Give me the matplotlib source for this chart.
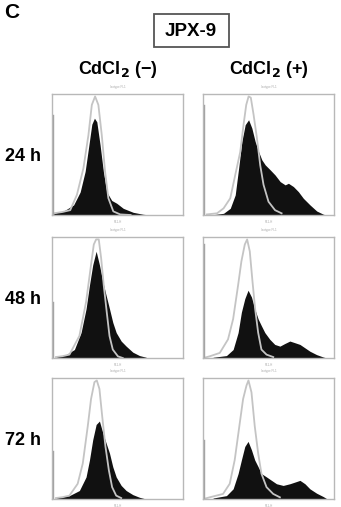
import matplotlib.pyplot as plt
from matplotlib.patches import Rectangle

plt.rcParams['font.family'] = ['Liberation Sans', 'DejaVu Sans']

# column / row headers
conditions = ["CdCl$_\\mathbf{2}$ (\u2212)", "CdCl$_\\mathbf{2}$ (+)"]
times = ["24 h", "48 h", "72 h"]

# histograms, x in % of channel range, y in % of panel height
# control (gray outline) and treated (black filled) per panel, row-major
ctrl_x = [
    [2, 8, 13.9, 19, 24, 27.8, 30.4, 32.9, 35.4, 38, 40.5, 43, 46.8, 52, 60],
    [3, 10.7, 15.7, 20.8, 24.6, 28.4, 31, 33, 34.8, 36.5, 38.6, 41.1, 43.7, 46.2, 50, 55, 60],
    [3, 8, 13.3, 20.9, 26, 29.8, 31.9, 33.7, 35.7, 37.5, 39.5, 41.8, 43.9, 46.4, 50.3, 54],
    [2, 5.1, 12.8, 19.1, 23, 26.8, 29.3, 31.9, 33.7, 35.7, 37.8, 39.8, 42.1, 44.6, 48.5, 53.6],
    [3, 8, 13.3, 19.6, 23.5, 27.3, 29.8, 32.4, 34.2, 36.2, 38.3, 40.8, 43.4, 45.9, 49, 52.8],
    [2, 5.1, 15.3, 20.4, 24.2, 28.1, 30.6, 33.2, 34.7, 37, 39.5, 42.1, 44.6, 48.5, 53.6, 58.7],
]
ctrl_y = [
    [1.5, 2.5, 4, 16.6, 38.7, 66, 91, 98, 91, 66, 36, 14, 3, 0.5, 0],
    [0.5, 1.4, 5.5, 13.8, 33, 52, 75, 91, 98, 97, 83, 64, 41, 25, 11, 4, 1.4],
    [0.8, 1.5, 2.8, 18.2, 46.2, 77, 93.8, 98, 98, 82.6, 60, 37.8, 18.2, 7, 1.4, 0],
    [0.5, 1.4, 4.2, 15.4, 32.2, 60.2, 79.8, 93.8, 98, 88.2, 63, 40.6, 21, 7, 2.8, 0.8],
    [0.8, 1.5, 2.8, 12.6, 29.4, 60.2, 82.6, 96.6, 98, 91, 68.6, 43.4, 23.8, 9.8, 2.8, 0.8],
    [0.5, 1.4, 4.2, 12.6, 32.2, 63, 82.6, 93.8, 98, 88.2, 60.2, 37.8, 21, 9.8, 4.2, 1.4],
]
trt_x = [
    [1.3, 8.9, 16.5, 21.5, 25.3, 27.8, 30.4, 32.4, 34.2, 36.7, 39.2, 41.8, 45.6, 49.4, 54.4, 62, 69.6, 74.7],
    [5.6, 15.7, 20.8, 24.6, 27.2, 29.7, 32.2, 34.8, 37.3, 39.8, 42.4, 44.9, 47.5, 51.3, 55, 58.9,
     62.7, 65.2, 69, 72.8, 76.6, 81.7, 86.8, 91.9, 94.4],
    [3.1, 10.7, 17.1, 22.2, 26, 28.6, 31.1, 33.7, 36.2, 38.8, 41.3, 43.9, 46.4, 49, 52.8, 56.6,
     61.7, 66.8, 71.9],
    [7.7, 17.9, 23, 26.8, 29.3, 31.9, 34.4, 37, 39.5, 42.1, 44.6, 47.2, 51, 54.8, 58.7, 62.5,
     66.3, 70.2, 74, 77.8, 81.6, 86.7, 91.8, 94.4],
    [3.1, 13.3, 20.9, 26, 28.6, 31.1, 33.7, 36.2, 38.8, 41.3, 43.9, 46.4, 49, 52.8, 56.6, 61.7,
     66.8, 70.7],
    [7.7, 17.9, 23, 26.8, 29.3, 31.9, 34.4, 37, 39.5, 42.1, 44.6, 48.5, 52.3, 56.1, 61.2, 66.3,
     70.2, 74, 77.8, 81.6, 86.7, 91.8, 94.4],
]
trt_y = [
    [1.4, 3.3, 8.3, 19, 36, 55, 75, 80, 77, 58, 36, 19, 12, 9.7, 5.5, 2.2, 0.6, 0],
    [0, 1.4, 5.5, 16.6, 38.7, 60.8, 74.6, 78.7, 71.8, 60.8, 52.5, 45.6, 41.4, 37.3, 33.1, 27.6,
     24.9, 26.2, 23.5, 19.3, 13.8, 8.3, 3.3, 0.6, 0],
    [0.8, 2.8, 7, 21, 40.6, 60.2, 77, 88.2, 77, 63, 51.8, 40.6, 29.4, 21, 14, 9.8, 4.8, 2, 0.6],
    [0.6, 2, 7, 21, 37.8, 49, 56, 50.4, 40.6, 32.2, 26.6, 21, 15.4, 11.2, 9.8, 12, 14, 12.6,
     11.2, 8.4, 5.6, 2.8, 0.8, 0],
    [0.8, 2.8, 7, 18.2, 32.2, 49, 61.6, 64.4, 54.6, 46.2, 37.8, 26.6, 18.2, 11.2, 7, 3.6, 1.4, 0.3],
    [0.8, 2.8, 8.4, 21, 32.2, 43.4, 47.6, 40.6, 32.2, 26.6, 21, 18.2, 15.4, 12.6, 11.2, 12.6,
     14, 15.4, 12.6, 8.4, 4.8, 2, 0.3],
]
# first-channel (off-scale) bin drawn on the left edge
edge_bin = [83, 91, 46, 94, 40, 49]

W, H = 341, 507
fig = plt.figure(figsize=(W / 100, H / 100), dpi=100)

lefts = [52, 203]
tops = [94, 237, 378]
pw, ph = 131, 121
frame = '#b8b8b8'

for r in range(3):
    for c in range(2):
        i = r * 2 + c
        ax = fig.add_axes([lefts[c] / W, 1 - (tops[r] + ph) / H, pw / W, ph / H])
        ax.fill_between(trt_x[i], trt_y[i], 0, color='#111111', lw=0)
        ax.plot(ctrl_x[i], ctrl_y[i], color='#c4c4c4', lw=1.3)
        ax.plot([0.4, 0.4], [0, edge_bin[i]], color='#a0a0a0', lw=1.0)
        ax.set_xlim(0, 100)
        ax.set_ylim(0, 100)
        ax.set_xticks([])
        ax.set_yticks([])
        for s in ax.spines.values():
            s.set_color(frame)
            s.set_linewidth(1.0)
        # tiny axis captions from the cytometer export
        ax.text(0.5, 1.04, "Isotype FL1", transform=ax.transAxes, ha='center',
                va='bottom', fontsize=2.2, color='#aaaaaa')
        ax.text(0.5, -0.04, "FL1-H", transform=ax.transAxes, ha='center',
                va='top', fontsize=2.2, color='#aaaaaa')

# panel letter
fig.text(4 / W, 1 - 12 / H, "C", fontsize=15, fontweight='bold', va='center', ha='left')

# cell line label in a box
fig.patches.append(Rectangle((154 / W, 1 - 47 / H), 75 / W, 33 / H,
                             transform=fig.transFigure, fc='white', ec='#555555', lw=1.3))
fig.text(191 / W, 1 - 31 / H, "JPX-9", fontsize=13.5, fontweight='bold', ha='center',
         va='center')

for c, lab in enumerate(conditions):
    fig.text((lefts[c] + pw / 2) / W, 1 - 70 / H, lab, fontsize=13, fontweight='bold',
             ha='center', va='center')

for r, lab in enumerate(times):
    fig.text(5 / W, 1 - (tops[r] + ph * 0.52) / H, lab, fontsize=13, fontweight='bold',
             ha='left', va='center')

fig.savefig("out.png", dpi=100)
